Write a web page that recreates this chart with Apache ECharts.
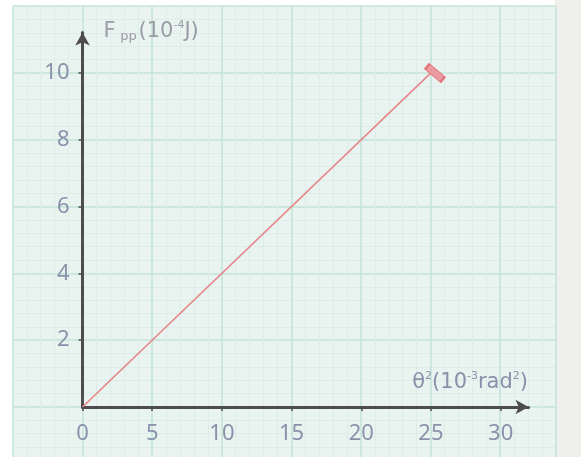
<!DOCTYPE html>
<html>
<head>
<meta charset="utf-8">
<script src="https://cdn.jsdelivr.net/npm/echarts@6/dist/echarts.min.js"></script>
<style>
  html, body { margin: 0; padding: 0; }
  #chart { width: 581px; height: 457px; background: linear-gradient(to right, #ffffff 0, #ffffff 555px, #efefec 555px); }
</style>
</head>
<body>
<div id="chart"></div>
<script>
// ---- data ----
const xTickValues = [0, 5, 10, 15, 20, 25, 30];
const yTickValues = [2, 4, 6, 8, 10];
const thetaSq = [0, 25];      // θ² (10^-3 rad²)
const energy = [0, 10];       // F_pp (10^-4 J)

const labelColor = '#8a91aa';
const nameGray = '#9a9ca8';
const fontFamily = "'Noto Sans', sans-serif";
const nameFont = "'DejaVu Sans', sans-serif";

const lineData = thetaSq.map((x, i) => {
  const item = { value: [x, energy[i]] };
  if (i === thetaSq.length - 1) {
    item.symbol = 'rect';
    item.symbolSize = [20, 7];
    item.symbolRotate = -40;
    item.symbolOffset = [4, 0];
  } else {
    item.symbol = 'none';
  }
  return item;
});

const chart = echarts.init(document.getElementById('chart'), null, { renderer: 'canvas' });
chart.setOption({
  backgroundColor: 'transparent',
  animation: false,
  grid: [
    { left: 12.9, right: 25.2, top: 6.2, bottom: -16.8, show: true, backgroundColor: '#e9f3ef', borderWidth: 0, outerBoundsMode: 'none', containLabel: false },
    { left: 82.5, right: 52.5, top: 32.5, bottom: 50, outerBoundsMode: 'none', containLabel: false }
  ],
  xAxis: [
    {
      gridIndex: 0, type: 'value', min: -5, max: 34, interval: 5,
      axisLine: { show: false }, axisTick: { show: false }, axisLabel: { show: false },
      splitLine: { show: true, lineStyle: { color: '#c2e3d8', width: 1.5 } },
      minorTick: { show: false, splitNumber: 5 },
      minorSplitLine: { show: true, lineStyle: { color: '#dbede6', width: 1 } }
    },
    {
      gridIndex: 1, type: 'value', min: 0, max: 32,
      name: '{a|θ}{sup|2}{a|(10}{sup|-3}{a|rad}{sup|2}{a|)}',
      nameLocation: 'end', nameGap: -0.5,
      nameTextStyle: {
        align: 'right', verticalAlign: 'bottom', padding: [0, 0, 12, 0],
        rich: {
          a: { fontSize: 21, color: labelColor, fontFamily: nameFont, lineHeight: 24 },
          sup: { fontSize: 11, color: labelColor, fontFamily: nameFont, lineHeight: 12, verticalAlign: 'top' }
        }
      },
      axisLine: { show: true, symbol: ['none', 'arrow'], symbolSize: [11, 13], lineStyle: { color: '#4d4d4d', width: 3 } },
      axisTick: { show: true, length: 4, customValues: xTickValues, lineStyle: { color: '#4d4d4d', width: 1.5 } },
      axisLabel: { show: true, customValues: xTickValues, margin: 16, fontSize: 22, color: labelColor, fontFamily },
      splitLine: { show: false }
    }
  ],
  yAxis: [
    {
      gridIndex: 0, type: 'value', min: -2, max: 12, interval: 2,
      axisLine: { show: false }, axisTick: { show: false }, axisLabel: { show: false },
      splitLine: { show: true, lineStyle: { color: '#c2e3d8', width: 1.5 } },
      minorTick: { show: false, splitNumber: 5 },
      minorSplitLine: { show: true, lineStyle: { color: '#dbede6', width: 1 } }
    },
    {
      gridIndex: 1, type: 'value', min: 0, max: 11.21,
      name: '{f|F}{sub|pp}{a|(10}{sup|-4}{a|J)}',
      nameLocation: 'end', nameGap: 1,
      nameTextStyle: {
        align: 'left', verticalAlign: 'middle', padding: [0, 0, 0, 21],
        rich: {
          f: { fontSize: 21, color: nameGray, fontFamily: nameFont, lineHeight: 24, width: 15 },
          a: { fontSize: 21, color: nameGray, fontFamily: nameFont, lineHeight: 24 },
          sup: { fontSize: 11, color: nameGray, fontFamily: nameFont, lineHeight: 11, verticalAlign: 'top' },
          sub: { fontSize: 13, color: nameGray, fontFamily: nameFont, lineHeight: 13, verticalAlign: 'bottom', width: 20, align: 'center', padding: [8, 0, 0, 0] }
        }
      },
      axisLine: { show: true, symbol: ['none', 'arrow'], symbolSize: [11, 13], lineStyle: { color: '#4d4d4d', width: 3 } },
      axisTick: { show: true, length: 4, customValues: yTickValues, lineStyle: { color: '#4d4d4d', width: 1.5 } },
      axisLabel: { show: true, customValues: yTickValues, margin: 13, fontSize: 22, color: labelColor, fontFamily },
      splitLine: { show: false }
    }
  ],
  series: [
    {
      type: 'line', xAxisIndex: 1, yAxisIndex: 1,
      data: lineData,
      showSymbol: true,
      lineStyle: { color: '#e7858c', width: 1.6 },
      itemStyle: { color: '#eb9aa0', borderColor: '#e2747c', borderWidth: 1.5 },
      z: 5
    }
  ]
});
</script>
</body>
</html>
